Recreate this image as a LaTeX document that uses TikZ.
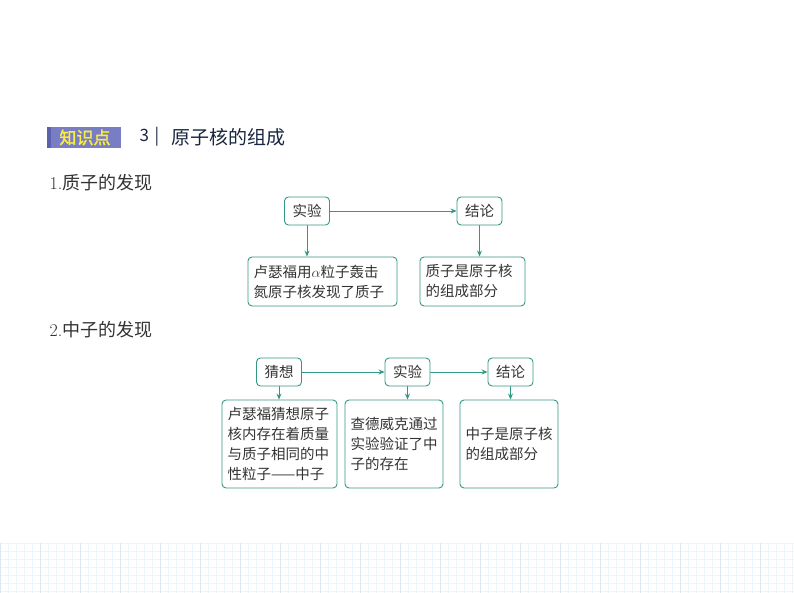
\documentclass[tikz,border=0pt]{standalone}
\usepackage{fontspec}
\usepackage{amsmath}
\newfontfamily\cjk{Noto Sans CJK SC}[AutoFakeBold=2]
\usetikzlibrary{arrows.meta}
\definecolor{qqmmgg}{rgb}{0.2,0.6,0.52}
\definecolor{ttuuee}{rgb}{0.47,0.49,0.77}
\definecolor{ssttdd}{rgb}{0.36,0.38,0.68}
\definecolor{ffeeqq}{rgb}{0.98,0.93,0.25}
\definecolor{zzzzzz}{rgb}{0.2,0.2,0.2}
\definecolor{qqsszz}{rgb}{0.1,0.15,0.25}
\definecolor{eeffff}{rgb}{0.92,0.96,0.98}
\definecolor{ccddee}{rgb}{0.86,0.91,0.95}
\tikzstyle{kuang}=[draw=qqmmgg,line width=0.9pt,rounded corners=4pt,inner xsep=5.5pt,inner ysep=0pt,align=left,text=zzzzzz,font=\cjk\fontsize{14.5}{20}\selectfont]
\tikzstyle{xiaokuang}=[kuang,align=center,minimum width=45pt,minimum height=28pt]
\tikzstyle{jiantou}=[->,draw=qqmmgg,line width=0.8pt]

\begin{document}
\begin{tikzpicture}[line cap=round,line join=round,>={Stealth[length=6pt,width=5pt]},x=1pt,y=-1pt]
            \useasboundingbox (0,0) rectangle (794,593);
            % grid at the bottom
            \foreach \i in {0,8,...,792} \draw [line width=0.4pt,color=eeffff] (\i,543) -- (\i,593);
            \foreach \j in {543,551,...,593} \draw [line width=0.4pt,color=eeffff] (0,\j) -- (794,\j);
            \foreach \i in {0,40,...,792} \draw [line width=0.4pt,color=ccddee] (\i,543) -- (\i,593);
            % heading
            \fill [color=ttuuee] (47,127) rectangle (121,148);
            \fill [color=ssttdd] (47,127) rectangle (51,148);
            \node (zhishi) at (85,137.5) [text=ffeeqq,font=\cjk\bfseries\fontsize{17}{17}\selectfont] {知识点};
            \node (hao) at (136,137) [anchor=west,text=qqsszz,font=\cjk\fontsize{17}{17}\selectfont] {3\,\,|};
            \node (biaoti) at (168,137) [anchor=west,text=qqsszz,font=\cjk\fontsize{19}{19}\selectfont] {原子核的组成};
            \node (duan1) at (46,183) [anchor=west,text=zzzzzz,font=\fontsize{18}{18}\selectfont] {1.\cjk 质子的发现};
            \node (duan2) at (46,330) [anchor=west,text=zzzzzz,font=\fontsize{18}{18}\selectfont] {2.\cjk 中子的发现};
            % proton
            \node [xiaokuang] (shiyan1) at (307,211) {实验};
            \node [xiaokuang] (jielun1) at (479.5,211) {结论};
            \node [kuang,text width=138pt,minimum height=49pt] (lu1) at (322.5,281.5) {卢瑟福用$\alpha$粒子轰击\\氮原子核发现了质子};
            \node [kuang,text width=94pt,minimum height=49pt] (zhi1) at (472.5,281.5) {质子是原子核\\的组成部分};
            \draw [jiantou] (shiyan1) -- (jielun1);
            \draw [jiantou] (shiyan1.south) -- (shiyan1.south |- lu1.north);
            \draw [jiantou] (jielun1.south) -- (jielun1.south |- zhi1.north);
            % neutron
            \node [xiaokuang] (caixiang) at (279,372) {猜想};
            \node [xiaokuang] (shiyan2) at (407.5,372) {实验};
            \node [xiaokuang] (jielun2) at (510.5,372) {结论};
            \node [kuang,text width=104pt,minimum height=88pt] (lu2) at (279.5,444) {卢瑟福猜想原子\\核内存在着质量\\与质子相同的中\\性粒子——中子};
            \node [kuang,text width=87pt,minimum height=88pt] (cha2) at (394,444) {查德威克通过\\实验验证了中\\子的存在\\[4pt]};
            \node [kuang,text width=87pt,minimum height=88pt] (zhong2) at (509,444) {中子是原子核\\的组成部分};
            \draw [jiantou] (caixiang) -- (shiyan2);
            \draw [jiantou] (shiyan2) -- (jielun2);
            \draw [jiantou] (caixiang.south) -- (caixiang.south |- lu2.north);
            \draw [jiantou] (shiyan2.south) -- (shiyan2.south |- cha2.north);
            \draw [jiantou] (jielun2.south) -- (jielun2.south |- zhong2.north);
\end{tikzpicture}
\end{document}
